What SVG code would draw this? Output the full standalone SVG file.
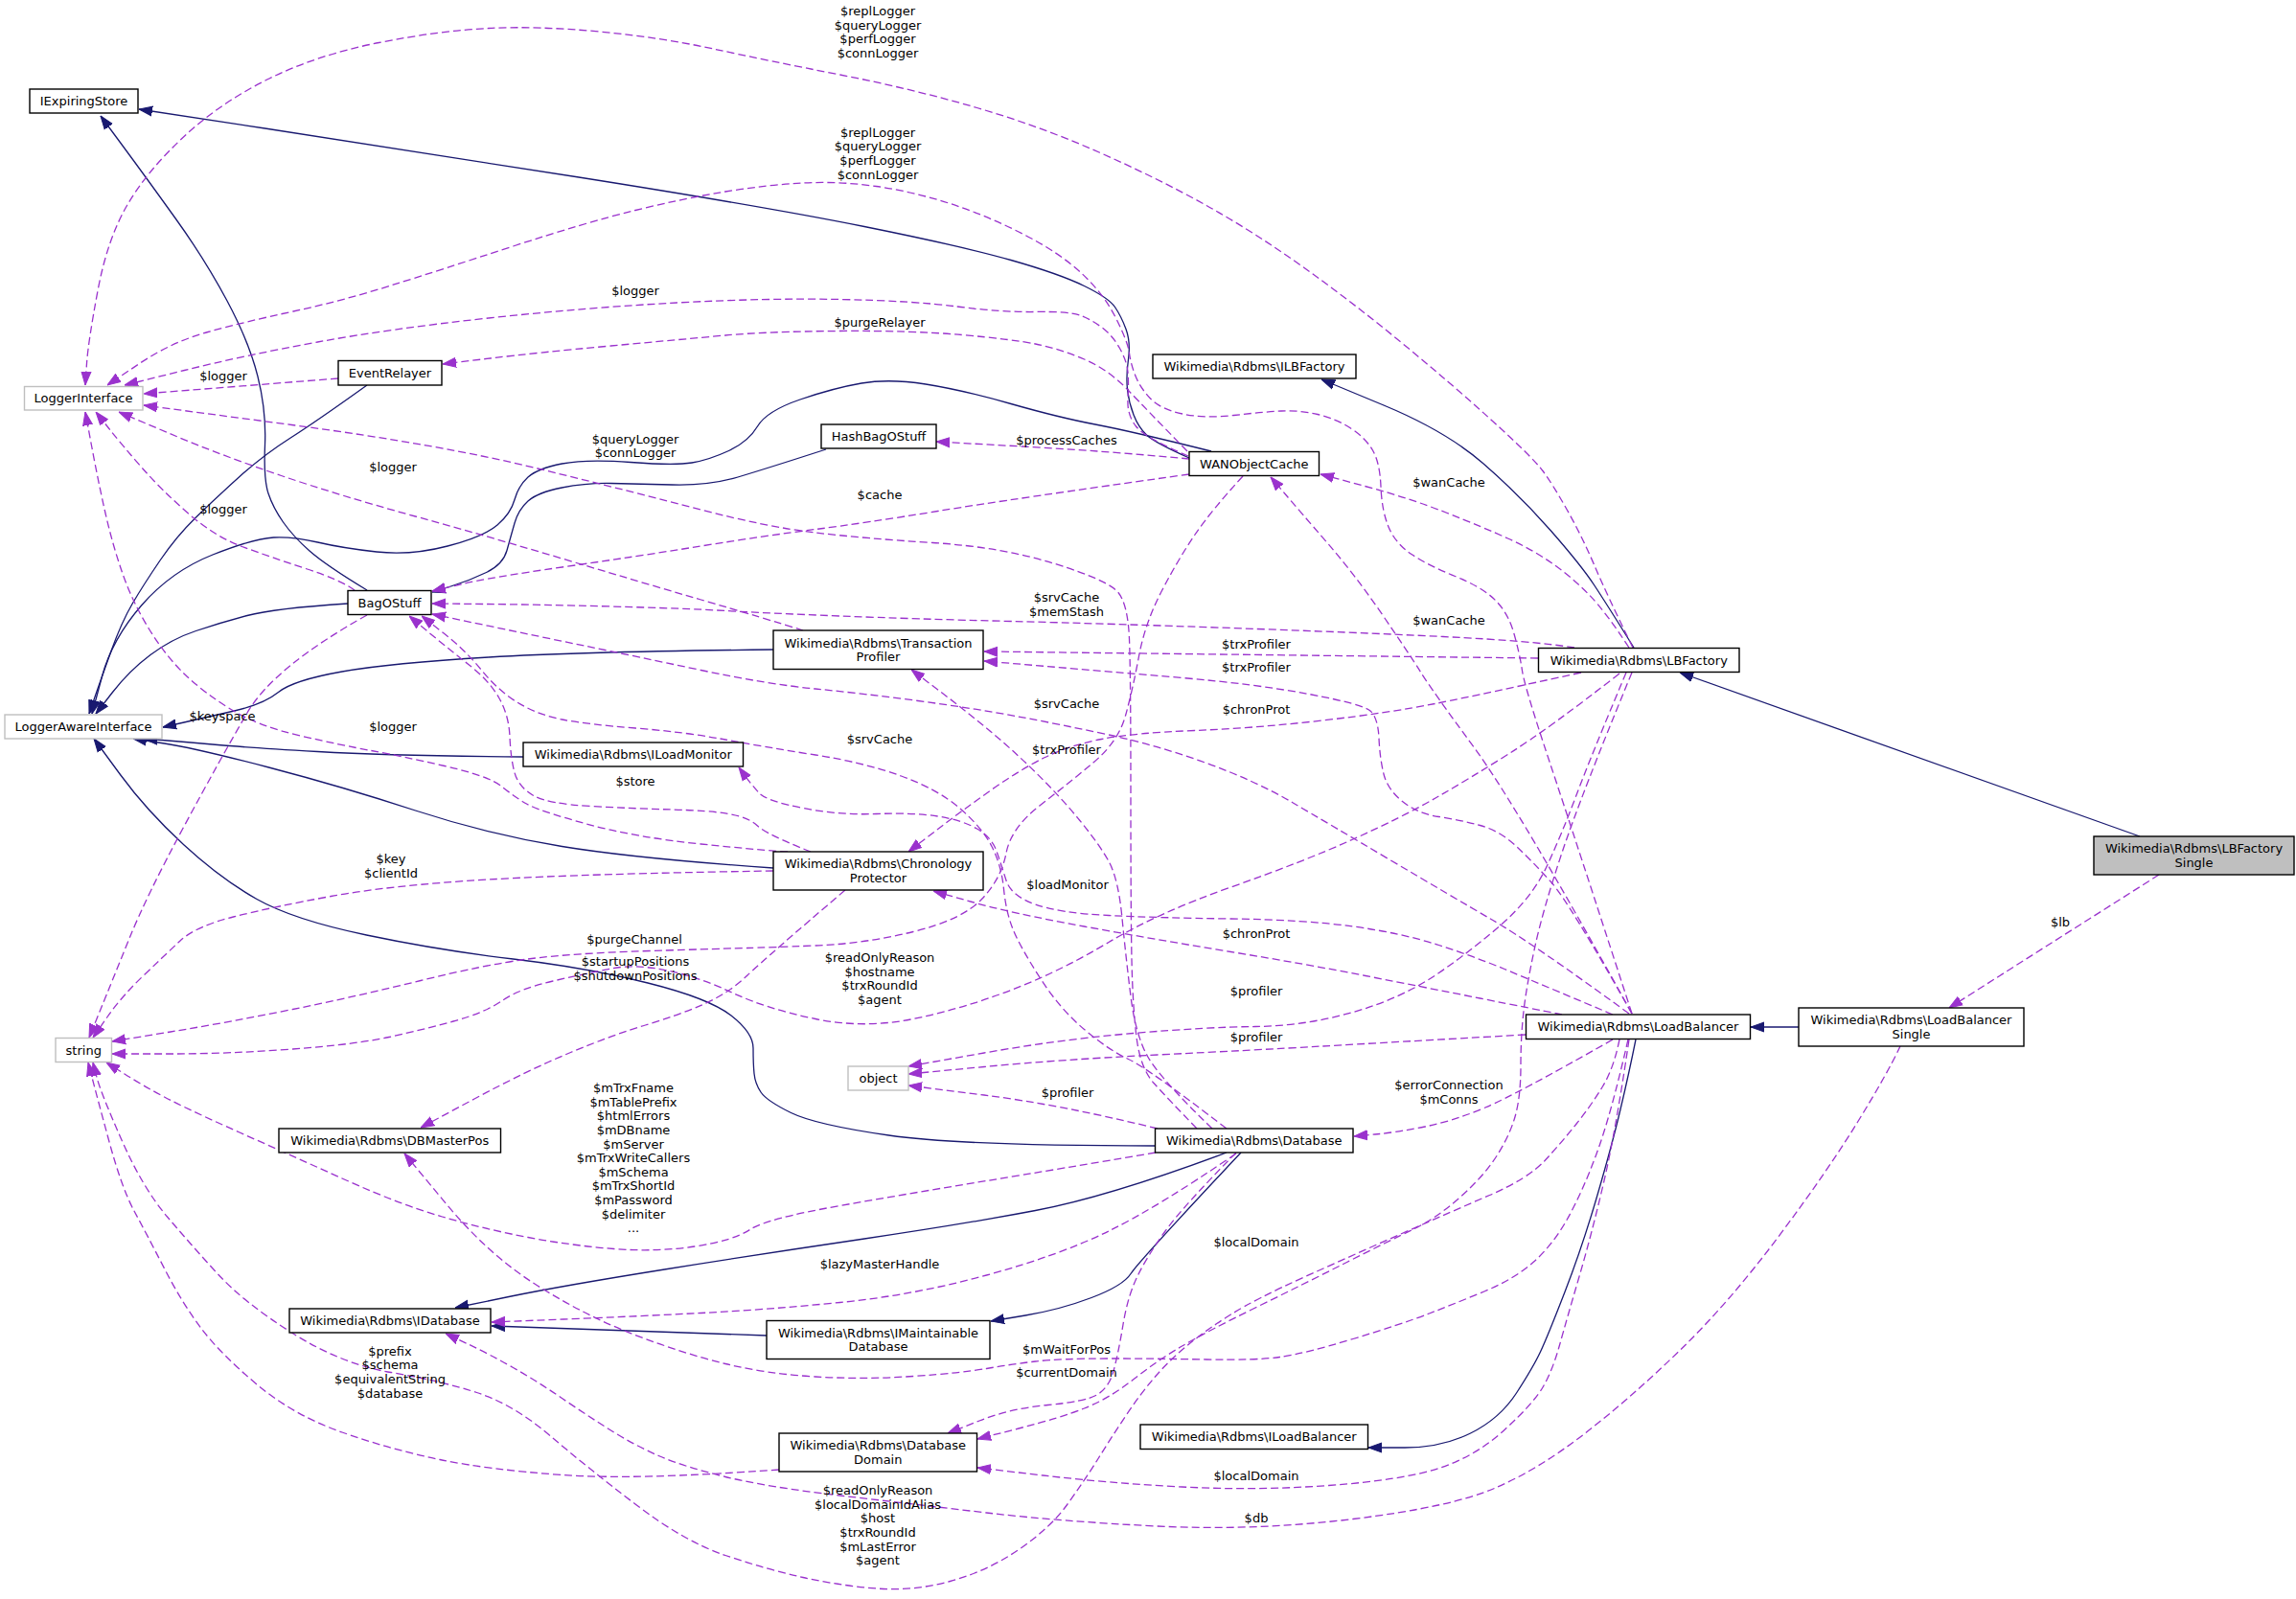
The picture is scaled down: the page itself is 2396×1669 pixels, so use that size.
<svg xmlns="http://www.w3.org/2000/svg" width="2396" height="1669" viewBox="0 0 2396 1669">
<defs>
<style>
.n rect{fill:#fff;stroke:#000;stroke-width:1.4}
.g rect{fill:#fff;stroke:#bfbfbf;stroke-width:1.4}
.f rect{fill:#bfbfbf;stroke:#000;stroke-width:1.4}
text{font-family:"DejaVu Sans",Verdana,sans-serif;font-size:13px;text-anchor:middle;fill:#000}
.s{fill:none;stroke:#191970;stroke-width:1.3;stroke-linejoin:round;marker-end:url(#ab)}
.d{fill:none;stroke:#9a32cd;stroke-width:1.3;stroke-linejoin:round;stroke-dasharray:8,4;marker-end:url(#ap)}
</style>
<marker id="ab" markerUnits="userSpaceOnUse" markerWidth="14" markerHeight="12" viewBox="0 0 14 12" refX="14" refY="6" orient="auto"><path d="M0,1 L14,6 L0,11 z" fill="#191970" stroke="#191970"/></marker>
<marker id="ap" markerUnits="userSpaceOnUse" markerWidth="14" markerHeight="12" viewBox="0 0 14 12" refX="14" refY="6" orient="auto"><path d="M0,1 L14,6 L0,11 z" fill="#9a32cd" stroke="#9a32cd"/></marker>
</defs>
<rect width="2396" height="1669" fill="#fff"/>
<g id="edges">
<path class="s" d="M1241,478 Q1205,462 1196.5,454 T1183,433 T1176.5,406.5 T1177.5,375 T1175,343.5 T1163.5,320.5 T1131.5,298.5 T1055,271.5 T902,236.5 T604,185 T276.5,134 L145,114"/>
<path class="s" d="M383,616 Q340,590 323,575 T295.5,545 T280,515 T276.5,464.5 T269,393 T237,314 T183.5,228.5 T129,153.5 L105,121"/>
<path class="s" d="M363,630 Q286,635 258,642.5 T204.5,658.5 T157,683.5 T117.5,722.5 L100,745"/>
<path class="s" d="M383,402 Q330,440 302.5,457.5 T250,497.5 T204.5,540 T167,585 T138.5,629.5 T116,679.5 T99,727.5 L93,745"/>
<path class="s" d="M862,469 Q800,489 770,498 T701.5,506 T637.5,504.5 T586.5,509 T551,523 T537,546 T529,574.5 T507.5,597.5 T470.5,612 L451,618"/>
<path class="s" d="M1264,471 Q1180,450 1143,443 T1055,421.5 T966,401 T899,400 T835,417 T790.5,445 T760.5,470.5 T722,483 T658,482.5 T586.5,484 T551,498 T537,521.5 T519,548 T467,570 T393,576 T331.5,566 T285.5,561 T222,579 T148,631.5 T106.5,706 L96,745"/>
<path class="s" d="M546,790 Q408,789 331.5,784.5 T227.5,777.5 T175,773 L150,771"/>
<path class="s" d="M807,678 Q612,680 510,686 T357,701 T290.5,722.5 T244.5,742 T192,754 L170,759"/>
<path class="s" d="M807,906 Q663,896 586.5,883.5 T433.5,846 T280.5,801 T171.5,776 L139,771"/>
<path class="s" d="M1206,1196 Q1004,1196 927.5,1185 T825.5,1161.5 T794,1140 T787,1120.5 T786,1094 T763,1060 T676,1026 T535.5,1001 T382.5,976 T268,938.5 T191.5,881.5 T125.5,808.5 L98,771"/>
<path class="s" d="M1280,1203 Q1157,1249 1080.5,1263.5 T902,1293 T693.5,1325 T531,1353.5 L475,1365"/>
<path class="s" d="M1295,1203 Q1188,1317 1180,1329.5 T1139,1354.5 T1070,1373 L1034,1379"/>
<path class="s" d="M800,1394 L513,1384"/>
<path class="s" d="M1707,1085 Q1700,1120 1691,1158 T1666.5,1249 T1633,1348.5 T1607.5,1411 T1582.5,1454 T1534.5,1496 T1466,1511 L1428,1511"/>
<path class="s" d="M1877,1072 L1827,1072"/>
<path class="s" d="M2233,873 L1753,702"/>
<path class="s" d="M1705,676 Q1677,631 1663.5,610.5 T1618,553.5 T1547.5,483.5 T1444,423 L1379,396"/>
<path class="d" d="M1704,676 Q1677,621 1664,590.5 T1635.5,532.5 T1610,491.5 T1557,439 T1463,358 T1361,279.5 T1259,214.5 T1147,159 T1019.5,112.5 T876.5,78 T744.5,51 T625,33 T510,29.5 T395.5,44.5 T281,82 T191.5,143 T132.5,214.5 T102,303.5 T90.5,379.5 L89,402"/>
<path class="d" d="M1703,1058 Q1643,873 1617,795 T1588.5,700 T1580,661.5 T1560.5,626.5 T1518.5,601.5 T1473,578.5 T1449,550 T1441,508 T1432.5,470 T1409.5,447 T1375,432.5 T1337,429 T1287.5,433.5 T1234,432 T1200.5,416 T1185,392.5 T1178.5,368.5 T1164.5,332 T1129,285.5 T1068,244.5 T991.5,212.5 T914.5,194.5 T838,191 T757,200 T663,219.5 T535.5,257 T408,298 T306,325 T217,346.5 T145.5,379.5 L112,402"/>
<path class="d" d="M1240,476 Q1195,457 1185.5,445 T1177,416.5 T1177,388.5 T1168.5,363.5 T1149.5,341.5 T1127,329 T1080.5,325.5 T999,320 T876.5,312.5 T706,316 T510,332 T331.5,357 T192.5,386.5 L130,402"/>
<path class="d" d="M1239,471 Q1198,429 1177.5,407.5 T1131.5,375 T1080.5,359 T1004,349.5 T876.5,345.5 T757,350 T637.5,361 T511.5,374 L462,380"/>
<path class="d" d="M353,395 L150,411"/>
<path class="d" d="M1249,1178 Q1218,1146 1204,1130.5 T1186,1082.5 T1181,1001.5 T1180,828 T1178.5,667 T1167,618.5 T1101,588.5 T973.5,566.5 T851,556 T731.5,532 T561,489 T304.5,443.5 L150,423"/>
<path class="d" d="M838,658 Q800,646 731.5,626 T586.5,583 T433.5,539 T293.5,496.5 T177,452.5 L124,430"/>
<path class="d" d="M370,616 Q357,606 319,593.5 T252.5,570.5 T196,535.5 T147.5,487.5 T113.5,447 L100,430"/>
<path class="d" d="M822,889 Q800,888 731.5,881 T612,860 T548.5,838.5 T523,820.5 T464,799.5 T387.5,783.5 T313.5,768 T242,741 T193.5,704.5 T155.5,656.5 T127.5,597.5 T109.5,533.5 T95.5,465 L89,430"/>
<path class="d" d="M1241,479 Q1157,471 1067,466 L977,461"/>
<path class="d" d="M1241,495 Q1055,521 978.5,533.5 T851,552.5 T731.5,570 T586.5,592 T480.5,610 L451,617"/>
<path class="d" d="M1643,676 Q1600,669 1506,664.5 T1284.5,655.5 T1055,648.5 T876.5,643 T757,637.5 T637.5,633 T506,630.5 L451,630"/>
<path class="d" d="M1700,1058 Q1600,985 1557,960 T1450.5,897.5 T1348.5,837.5 T1259,796.5 T1157,767 T1060,747.5 T958,731.5 T851,719 T731.5,699.5 T612,674.5 T506,652.5 L451,641"/>
<path class="d" d="M1280,1178 Q1198,1115 1177.5,1105.5 T1131.5,1074.5 T1085.5,1021 T1057.5,971 T1047.5,928 T1035,883.5 T1002,844 T940.5,810 T851,788 T757,772 T663,760 T586.5,751 T540.5,733.5 T502.5,699.5 T462.5,660.5 L440,643"/>
<path class="d" d="M846,889 Q800,871 790.5,862 T760.5,849.5 T701.5,845 T617,841.5 T556,830 T537,806.5 T532,769 T520.5,728 T489.5,694 T448,660.5 L427,643"/>
<path class="d" d="M1700,676 Q1676,639 1658.5,621 T1620.5,588.5 T1573.5,562 T1509,535 T1424.5,507.5 L1378,495"/>
<path class="d" d="M1703,1058 Q1583,841 1538.5,780.5 T1482.5,701.5 T1442.5,641.5 T1385,566.5 T1341,515.5 L1326,498"/>
<path class="d" d="M1605,687 L1027,680"/>
<path class="d" d="M1703,1058 Q1637,941 1618.5,920.5 T1582.5,883.5 T1544.5,861.5 T1501.5,852.5 T1463.5,836.5 T1444,808 T1439,770.5 T1430,742 T1366,724.5 T1233.5,707.5 T1092,695.5 L1027,690"/>
<path class="d" d="M1265,1178 Q1210,1125 1197.5,1102.5 T1180,1040 T1171,958.5 T1157,899 T1126.5,856 T1080.5,806 T1029.5,760 T977.5,719 L951,699"/>
<path class="d" d="M1650,702 Q1550,724 1500,734 T1380,752 T1246.5,762.5 T1149.5,771.5 T1090.5,790.5 T1034.5,824.5 T976,867.5 L948,889"/>
<path class="d" d="M1630,1059 Q1600,1053 1544.5,1042 T1425,1018.5 T1284.5,993.5 T1131.5,967 T1014.5,941.5 L974,930"/>
<path class="d" d="M1683,1059 Q1600,1024 1570,1011.5 T1501.5,986.5 T1412,967 T1284.5,959 T1157,955.5 T1080.5,944 T1050,919 T1040,888.5 T1019.5,865 T978.5,852 T914.5,849.5 T838,843.5 T792.5,828 T778,810.5 L771,801"/>
<path class="d" d="M383,642 Q286,696 258,744 T191.5,863.5 T135,979.5 T105,1053.5 L93,1083"/>
<path class="d" d="M807,909 Q612,912 510,918 T345.5,935.5 T243.5,957 T188,982 T149.5,1018.5 T112,1061.5 L97,1083"/>
<path class="d" d="M1297,497 Q1264,533 1247,558 T1212.5,616.5 T1188.5,685 T1174.5,747 T1141.5,795.5 T1085.5,840.5 T1050,890.5 T1024.5,938.5 T953,972.5 T851,987 T780,989.5 T678,992.5 T551,1001 T439,1023.5 T305.5,1053.5 T178,1077 L117,1087"/>
<path class="d" d="M1690,703 Q1617,760 1575,786.5 T1498,833 T1412,876 T1284.5,926 T1157,983.5 T1055,1033.5 T953,1063.5 T851,1063.5 T765,1036.5 T696.5,1013 T637.5,1011 T577,1024 T524,1044.5 T473,1066 T406,1082.5 T305.5,1095 T178,1100 L117,1100"/>
<path class="d" d="M882,929 Q800,999 780,1018 T733.5,1048.5 T673.5,1070 T595.5,1098.5 T495,1147 L439,1177"/>
<path class="d" d="M1697,702 Q1660,790 1645,830 T1615,902.5 T1570,962 T1501.5,1015.5 T1412,1056.5 T1310,1071.5 T1182.5,1078.5 T1027,1099 L948,1113"/>
<path class="d" d="M1592,1080 Q1450,1088 1380,1092 T1208,1101 T1027,1113.5 L948,1121"/>
<path class="d" d="M1208,1178 Q1106,1153 1027,1143 L948,1133"/>
<path class="d" d="M1683,1085 Q1583,1142 1550,1156 T1487,1176 T1435,1184 L1413,1186"/>
<path class="d" d="M1703,702 Q1650,830 1630,890 T1601.5,989.5 T1590,1055.5 T1587,1112 T1582,1162 T1563.5,1204 T1525,1248.5 T1475,1283 T1405.5,1317.5 T1310,1365 T1233.5,1405 T1182.5,1440 T1131.5,1470 T1063,1491 L1020,1502"/>
<path class="d" d="M1700,1085 Q1686,1181 1673.5,1234.5 T1648,1332.5 T1627.5,1404 T1610,1448 T1570,1492.5 T1501.5,1532.5 T1386.5,1550.5 T1233.5,1552 T1088.5,1540 L1020,1532"/>
<path class="d" d="M1290,1203 Q1234,1260 1216,1285 T1187.5,1331 T1172,1382.5 T1162,1431 T1144.5,1456 T1093.5,1466.5 T1022,1483 L989,1496"/>
<path class="d" d="M1699,1085 Q1681,1164 1666,1204.5 T1635.5,1272.5 T1600,1317.5 T1550,1347.5 T1491.5,1371 T1412,1397.5 T1335.5,1416.5 T1259,1419 T1157,1418 T1080.5,1421 T1029.5,1428.5 T953,1436.5 T851,1437 T757,1423.5 T663,1393.5 T561,1342 T466,1257 L422,1204"/>
<path class="d" d="M1690,1085 Q1684,1115 1672.5,1134 T1645.5,1172.5 T1612.5,1211 T1554.5,1247.5 T1463,1287.5 T1361,1333 T1284.5,1372 T1239.5,1404 T1205,1437.5 T1175,1477.5 T1146,1522.5 T1114,1570 T1063,1617.5 T991.5,1650.5 T914.5,1658 T838,1646.5 T757,1623.5 T663,1570 T574,1498.5 T497.5,1453.5 T408,1432.5 T306,1392 T227.5,1330 T174.5,1270 T127,1190 T101,1124.5 L97,1109"/>
<path class="d" d="M1206,1203 Q1106,1220 1029.5,1232.5 T876.5,1258.5 T782.5,1283.5 T725,1301 T640.5,1303.5 T551,1291.5 T461.5,1270 T361.5,1232 T250,1182 T171.5,1145 T130,1121 L111,1109"/>
<path class="d" d="M813,1534 Q663,1545 586.5,1539.5 T459,1523.5 T357,1495 T268,1445 T210,1386.5 T171.5,1324 T140,1264 T113.5,1190 T96,1124.5 L92,1109"/>
<path class="d" d="M1290,1204 Q1208,1260 1157,1285 T1029.5,1331 T876.5,1359.5 T731.5,1370.5 T588,1377 L513,1380"/>
<path class="d" d="M1983,1092 Q1970,1120 1938,1172 T1855,1292 T1753,1409.5 T1653.5,1496.5 T1559.5,1553.5 T1412,1585.5 T1208,1593 T1029.5,1579 T876.5,1561 T757,1541.5 T688.5,1520 T637.5,1493 T586.5,1459.5 T535.5,1427.5 T487.5,1402.5 L465,1392"/>
<path class="d" d="M2253,913 L2034,1052"/>
</g>
<g id="labels">
<text x="916" y="16">$replLogger</text><text x="916" y="31">$queryLogger</text><text x="916" y="45">$perfLogger</text><text x="916" y="60">$connLogger</text>
<text x="916" y="143">$replLogger</text><text x="916" y="157">$queryLogger</text><text x="916" y="172">$perfLogger</text><text x="916" y="187">$connLogger</text>
<text x="663" y="308">$logger</text>
<text x="918" y="341">$purgeRelayer</text>
<text x="233" y="397">$logger</text>
<text x="1113" y="464">$processCaches</text>
<text x="663" y="463">$queryLogger</text><text x="663" y="477">$connLogger</text>
<text x="410" y="492">$logger</text>
<text x="1512" y="508">$wanCache</text>
<text x="918" y="521">$cache</text>
<text x="233" y="536">$logger</text>
<text x="1113" y="628">$srvCache</text><text x="1113" y="643">$memStash</text>
<text x="1512" y="652">$wanCache</text>
<text x="1311" y="677">$trxProfiler</text>
<text x="1311" y="701">$trxProfiler</text>
<text x="1113" y="739">$srvCache</text>
<text x="1311" y="745">$chronProt</text>
<text x="232" y="752">$keyspace</text>
<text x="410" y="763">$logger</text>
<text x="918" y="776">$srvCache</text>
<text x="1113" y="787">$trxProfiler</text>
<text x="663" y="820">$store</text>
<text x="408" y="901">$key</text><text x="408" y="916">$clientId</text>
<text x="1114" y="928">$loadMonitor</text>
<text x="1311" y="979">$chronProt</text>
<text x="662" y="985">$purgeChannel</text>
<text x="663" y="1008">$startupPositions</text><text x="663" y="1023">$shutdownPositions</text>
<text x="918" y="1004">$readOnlyReason</text><text x="918" y="1019">$hostname</text><text x="918" y="1033">$trxRoundId</text><text x="918" y="1048">$agent</text>
<text x="1311" y="1039">$profiler</text>
<text x="1311" y="1087">$profiler</text>
<text x="661" y="1140">$mTrxFname</text><text x="661" y="1155">$mTablePrefix</text><text x="661" y="1169">$htmlErrors</text><text x="661" y="1184">$mDBname</text><text x="661" y="1199">$mServer</text><text x="661" y="1213">$mTrxWriteCallers</text><text x="661" y="1228">$mSchema</text><text x="661" y="1242">$mTrxShortId</text><text x="661" y="1257">$mPassword</text><text x="661" y="1272">$delimiter</text><text x="661" y="1286">...</text>
<text x="1512" y="1137">$errorConnection</text><text x="1512" y="1152">$mConns</text>
<text x="1114" y="1145">$profiler</text>
<text x="1311" y="1301">$localDomain</text>
<text x="918" y="1324">$lazyMasterHandle</text>
<text x="1113" y="1413">$mWaitForPos</text>
<text x="407" y="1415">$prefix</text><text x="407" y="1429">$schema</text><text x="407" y="1444">$equivalentString</text><text x="407" y="1459">$database</text>
<text x="1113" y="1437">$currentDomain</text>
<text x="1311" y="1545">$localDomain</text>
<text x="916" y="1560">$readOnlyReason</text><text x="916" y="1575">$localDomainIdAlias</text><text x="916" y="1589">$host</text><text x="916" y="1604">$trxRoundId</text><text x="916" y="1619">$mLastError</text><text x="916" y="1633">$agent</text>
<text x="1311" y="1589">$db</text>
<text x="2150" y="967">$lb</text>
</g>
<g id="node-IExpiringStore" class="n"><rect x="31" y="93" width="113" height="25"/><text x="87.5" y="110">IExpiringStore</text></g>
<g id="node-LoggerInterface" class="g"><rect x="25.5" y="403.5" width="123.5" height="24.5"/><text x="87" y="420">LoggerInterface</text></g>
<g id="node-EventRelayer" class="n"><rect x="353" y="376.5" width="108" height="25.5"/><text x="407" y="394">EventRelayer</text></g>
<g id="node-ILBFactory" class="n"><rect x="1203" y="370" width="212" height="25"/><text x="1309" y="387">Wikimedia\Rdbms\ILBFactory</text></g>
<g id="node-HashBagOStuff" class="n"><rect x="857" y="443" width="120" height="25"/><text x="917" y="460">HashBagOStuff</text></g>
<g id="node-WANObjectCache" class="n"><rect x="1241" y="471.5" width="135.5" height="25"/><text x="1308.75" y="488.5">WANObjectCache</text></g>
<g id="node-BagOStuff" class="n"><rect x="363" y="616.5" width="87" height="25"/><text x="406.5" y="633.5">BagOStuff</text></g>
<g id="node-LoggerAwareInterface" class="g"><rect x="5" y="746" width="164" height="25"/><text x="87" y="763">LoggerAwareInterface</text></g>
<g id="node-ILoadMonitor" class="n"><rect x="546" y="775" width="229.5" height="25"/><text x="660.75" y="792">Wikimedia\Rdbms\ILoadMonitor</text></g>
<g id="node-string" class="g"><rect x="58" y="1083.5" width="58.5" height="25"/><text x="87.25" y="1100.5">string</text></g>
<g id="node-TransactionProfiler" class="n"><rect x="807" y="658" width="219" height="40.5"/><text x="916.5" y="675.5">Wikimedia\Rdbms\Transaction</text><text x="916.5" y="690">Profiler</text></g>
<g id="node-ChronologyProtector" class="n"><rect x="807" y="889" width="219" height="40"/><text x="916.5" y="906">Wikimedia\Rdbms\Chronology</text><text x="916.5" y="920.5">Protector</text></g>
<g id="node-object" class="g"><rect x="885" y="1113" width="63" height="25"/><text x="916.5" y="1130">object</text></g>
<g id="node-LBFactory" class="n"><rect x="1605.5" y="676.5" width="209.5" height="25"/><text x="1710.25" y="693.5">Wikimedia\Rdbms\LBFactory</text></g>
<g id="node-LBFactorySingle" class="f"><rect x="2185" y="873" width="209" height="40"/><text x="2289.5" y="890">Wikimedia\Rdbms\LBFactory</text><text x="2289.5" y="904.5">Single</text></g>
<g id="node-LoadBalancer" class="n"><rect x="1592.5" y="1059" width="234" height="25.5"/><text x="1709.5" y="1076">Wikimedia\Rdbms\LoadBalancer</text></g>
<g id="node-LoadBalancerSingle" class="n"><rect x="1877" y="1052" width="235" height="40"/><text x="1994.5" y="1069">Wikimedia\Rdbms\LoadBalancer</text><text x="1994.5" y="1083.5">Single</text></g>
<g id="node-DBMasterPos" class="n"><rect x="291" y="1178" width="231.5" height="25"/><text x="406.75" y="1195">Wikimedia\Rdbms\DBMasterPos</text></g>
<g id="node-IDatabase" class="n"><rect x="302" y="1366" width="210" height="25"/><text x="407" y="1383">Wikimedia\Rdbms\IDatabase</text></g>
<g id="node-Database" class="n"><rect x="1205.5" y="1178" width="206.5" height="25"/><text x="1308.75" y="1195">Wikimedia\Rdbms\Database</text></g>
<g id="node-IMaintainableDatabase" class="n"><rect x="800" y="1378.5" width="233" height="40"/><text x="916.5" y="1395.5">Wikimedia\Rdbms\IMaintainable</text><text x="916.5" y="1410">Database</text></g>
<g id="node-DatabaseDomain" class="n"><rect x="813" y="1496" width="206.5" height="40"/><text x="916.25" y="1513">Wikimedia\Rdbms\Database</text><text x="916.25" y="1527.5">Domain</text></g>
<g id="node-ILoadBalancer" class="n"><rect x="1190" y="1487" width="237.5" height="25.5"/><text x="1308.75" y="1504">Wikimedia\Rdbms\ILoadBalancer</text></g>
</svg>
